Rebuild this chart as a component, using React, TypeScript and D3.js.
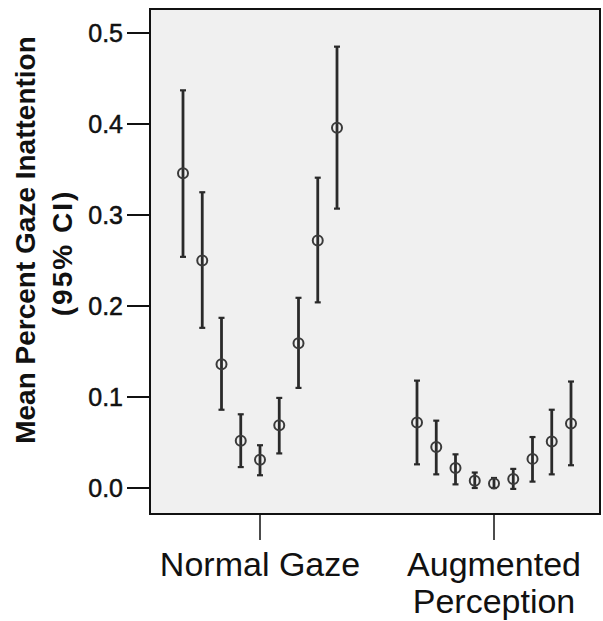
import React, { useEffect } from 'react';
import * as d3 from 'd3';

// groups on the x axis and the nine blocks inside each group
const conditions = ['Normal Gaze', 'Augmented Perception'];
const blocks = ['1', '2', '3', '4', '5', '6', '7', '8', '9'];

const normalMean = [0.346, 0.25, 0.136, 0.052, 0.031, 0.069, 0.159, 0.272, 0.396];
const normalLow = [0.254, 0.176, 0.086, 0.023, 0.014, 0.038, 0.11, 0.204, 0.307];
const normalHigh = [0.437, 0.325, 0.187, 0.081, 0.047, 0.099, 0.209, 0.341, 0.485];

const augMean = [0.072, 0.045, 0.022, 0.008, 0.005, 0.01, 0.032, 0.051, 0.071];
const augLow = [0.026, 0.015, 0.004, 0.0, 0.0, -0.001, 0.007, 0.015, 0.025];
const augHigh = [0.118, 0.074, 0.037, 0.017, 0.011, 0.021, 0.056, 0.086, 0.117];

const yTicks = [0, 0.1, 0.2, 0.3, 0.4, 0.5];

const width = 603;
const height = 621;
const frame = { left: 150, right: 600, top: 9, bottom: 514 };

const App = () => {
  useEffect(() => {
    document.body.style.margin = '0';
  }, []);

  const y = d3.scaleLinear().domain([0, 0.5]).range([488, 33]);
  const x = d3.scalePoint().domain(conditions).range([260, 494]);
  const inner = d3.scalePoint().domain(blocks).range([-77, 77]);

  const series = [
    { cond: conditions[0], mean: normalMean, low: normalLow, high: normalHigh },
    { cond: conditions[1], mean: augMean, low: augLow, high: augHigh },
  ];

  const points = series.flatMap((s) =>
    blocks.map((b, i) => ({
      cx: (x(s.cond) as number) + (inner(b) as number),
      mean: s.mean[i],
      low: s.low[i],
      high: s.high[i],
    }))
  );

  const font = '"Liberation Sans", Arial, sans-serif';

  return (
    <svg width={width} height={height} style={{ display: 'block', background: '#fff' }}>
      <rect
        x={frame.left}
        y={frame.top}
        width={frame.right - frame.left}
        height={frame.bottom - frame.top}
        fill="#f0f0f0"
        stroke="#111"
        strokeWidth={2}
      />

      {/* y axis */}
      {yTicks.map((t) => (
        <g key={t}>
          <line x1={127} x2={frame.left} y1={y(t)} y2={y(t)} stroke="#111" strokeWidth={2} />
          <text
            x={123}
            y={y(t)}
            dy="0.36em"
            textAnchor="end"
            fontFamily={font}
            fontSize={25}
            fill="#111"
            stroke="#111"
            strokeWidth={0.5}
          >
            {d3.format('.1f')(t)}
          </text>
        </g>
      ))}

      {/* x axis */}
      {conditions.map((c) => (
        <line
          key={c}
          x1={x(c)}
          x2={x(c)}
          y1={frame.bottom}
          y2={540}
          stroke="#111"
          strokeWidth={1.5}
        />
      ))}
      <text x={x(conditions[0])} y={576} textAnchor="middle" fontFamily={font} fontSize={34} fill="#111">
        Normal Gaze
      </text>
      <text x={x(conditions[1])} y={576} textAnchor="middle" fontFamily={font} fontSize={34} fill="#111">
        Augmented
      </text>
      <text x={x(conditions[1])} y={613} textAnchor="middle" fontFamily={font} fontSize={34} fill="#111">
        Perception
      </text>

      {/* y title */}
      <text
        transform="translate(35,240) rotate(-90)"
        textAnchor="middle"
        fontFamily={font}
        fontWeight="bold"
        fontSize={28}
        fill="#111"
      >
        Mean Percent Gaze Inattention
      </text>
      <text
        transform="translate(72,253) rotate(-90)"
        textAnchor="middle"
        fontFamily={font}
        fontWeight="bold"
        fontSize={28}
        letterSpacing={2}
        fill="#111"
      >
        (95% CI)
      </text>

      {/* error bars */}
      {points.map((p, i) => (
        <g key={i}>
          <line x1={p.cx} x2={p.cx} y1={y(p.low)} y2={y(p.high)} stroke="#2a2a2a" strokeWidth={2.8} />
          <line x1={p.cx - 3} x2={p.cx + 3} y1={y(p.low)} y2={y(p.low)} stroke="#2a2a2a" strokeWidth={2.2} />
          <line x1={p.cx - 3} x2={p.cx + 3} y1={y(p.high)} y2={y(p.high)} stroke="#2a2a2a" strokeWidth={2.2} />
          <circle cx={p.cx} cy={y(p.mean)} r={5} fill="none" stroke="#3a3a3a" strokeWidth={2} />
        </g>
      ))}
    </svg>
  );
};

export default App;
